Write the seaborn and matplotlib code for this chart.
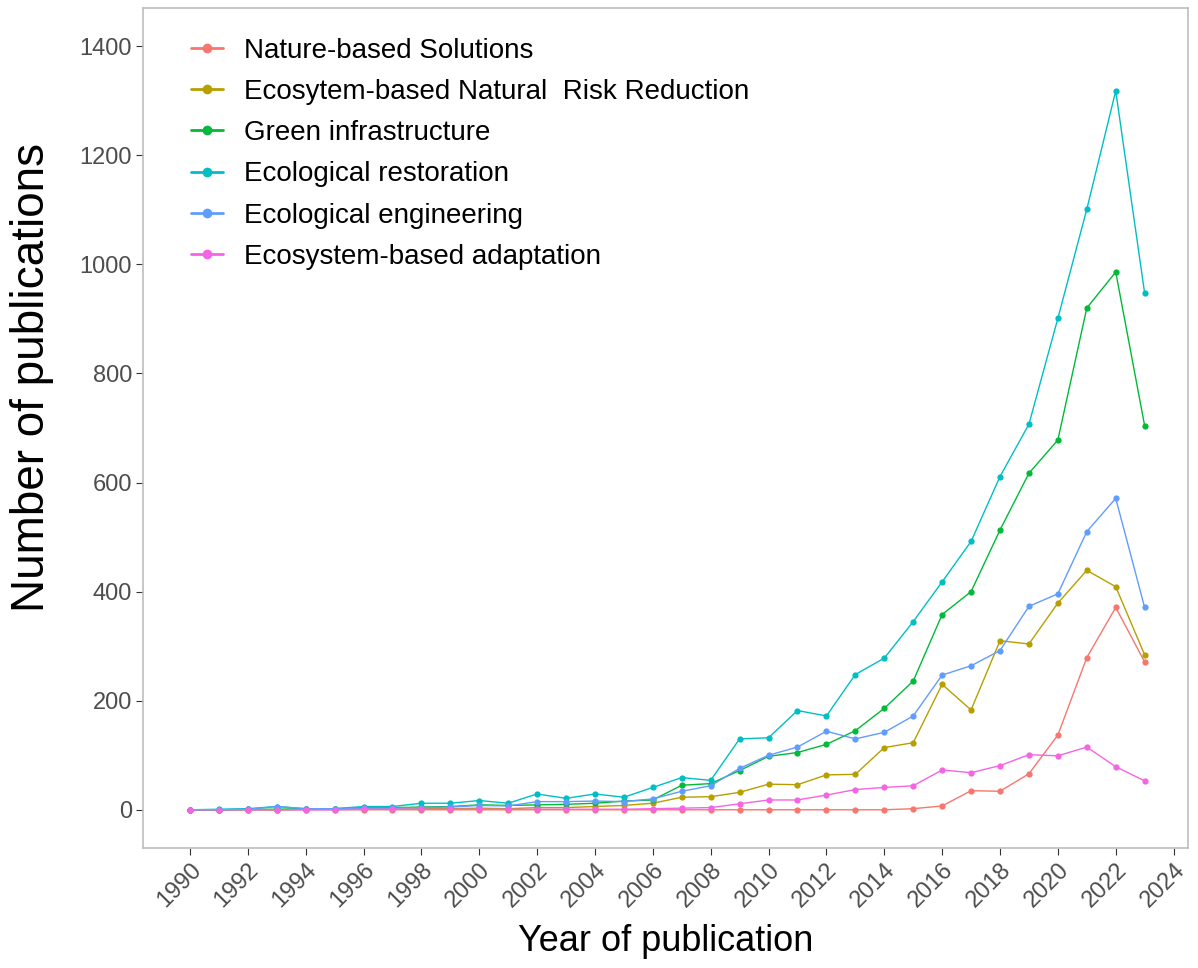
import matplotlib
matplotlib.use("Agg")
import matplotlib.pyplot as plt
import seaborn as sns
import pandas as pd
import numpy as np

years = list(range(1990, 2024))

nbs = [0, 0, 0, 0, 0, 0, 0, 0, 0, 0,
       0, 0, 0, 0, 0, 0, 0, 0, 0, 0,
       0, 0, 0, 0, 0, 2, 7, 35, 34, 66,
       137, 279, 371, 271]
ecodrr = [0, 0, 0, 0, 1, 1, 2, 1, 2, 2,
          3, 2, 4, 4, 6, 8, 12, 23, 24, 32,
          47, 46, 64, 65, 114, 123, 230, 183, 310, 304,
          379, 439, 409, 284]
green = [0, 0, 1, 1, 2, 2, 4, 4, 5, 6,
         9, 8, 9, 10, 12, 16, 18, 45, 48, 72,
         98, 105, 120, 145, 186, 236, 358, 400, 513, 617,
         678, 920, 986, 704]
restoration = [0, 1, 2, 6, 2, 2, 6, 6, 12, 12,
               17, 12, 29, 21, 29, 23, 41, 59, 54, 130,
               132, 182, 172, 248, 278, 345, 418, 492, 611, 707,
               901, 1101, 1318, 947]
engineering = [0, 0, 1, 6, 2, 2, 3, 3, 4, 5,
               8, 7, 15, 15, 16, 15, 20, 34, 44, 76,
               100, 115, 144, 130, 142, 172, 247, 264, 292, 373,
               396, 510, 571, 371]
eba = [0, 0, 0, 0, 0, 0, 1, 1, 1, 1,
       1, 1, 1, 1, 1, 1, 2, 3, 4, 11,
       18, 18, 27, 37, 41, 44, 73, 68, 81, 101,
       99, 115, 79, 53]

series_names = ["Nature-based Solutions",
                "Ecosytem-based Natural  Risk Reduction",
                "Green infrastructure",
                "Ecological restoration",
                "Ecological engineering",
                "Ecosystem-based adaptation"]
series_values = [nbs, ecodrr, green, restoration, engineering, eba]
colors = ["#F8766D", "#B79F00", "#00BA38", "#00BFC4", "#619CFF", "#F564E3"]

x_ticks = list(range(1990, 2025, 2))
y_ticks = [0, 200, 400, 600, 800, 1000, 1200, 1400]

rows = []
for name, vals in zip(series_names, series_values):
    for yr, v in zip(years, vals):
        rows.append({"year": yr, "count": v, "series": name})
df = pd.DataFrame(rows)

sns.set_theme(style="white")
plt.rcParams['font.family'] = ['Liberation Sans', 'DejaVu Sans']

fig = plt.figure(figsize=(11.98, 9.68), dpi=100)
ax = fig.add_axes([0.1194, 0.124, 0.8723, 0.8677])

sns.lineplot(data=df, x="year", y="count", hue="series", hue_order=series_names,
             palette=colors, marker="o", markersize=4.5, markeredgewidth=0,
             linewidth=1.0, ax=ax, legend=True)

ax.set_xlim(1988.38, 2024.5)
ax.set_ylim(-70, 1470)
ax.set_xticks(x_ticks)
ax.set_yticks(y_ticks)
ax.set_xticklabels([str(t) for t in x_ticks], rotation=45, ha="right",
                   rotation_mode="anchor")
ax.tick_params(axis="both", which="major", length=5, width=0.8, color="#333333",
               labelsize=17, labelcolor="#4D4D4D", direction="out",
               bottom=True, left=True, pad=3)
for sp in ax.spines.values():
    sp.set_color("#BEBEBE")
    sp.set_linewidth(1.2)

ax.set_xlabel("Year of publication", fontsize=26, color="black", labelpad=9)
ax.set_ylabel("Number of publications", fontsize=33, color="black")
ax.yaxis.set_label_coords(-0.085, 0.56)

leg = ax.legend(loc="upper left", bbox_to_anchor=(0.035, 0.978), frameon=False,
                fontsize=20, handlelength=1.15, handletextpad=0.75,
                labelspacing=0.55, borderaxespad=0.0)
for t in leg.get_texts():
    t.set_color("black")
for h in leg.legend_handles:
    h.set_linewidth(2)
    h.set_markersize(7)

fig.savefig("out.png", dpi=100)
